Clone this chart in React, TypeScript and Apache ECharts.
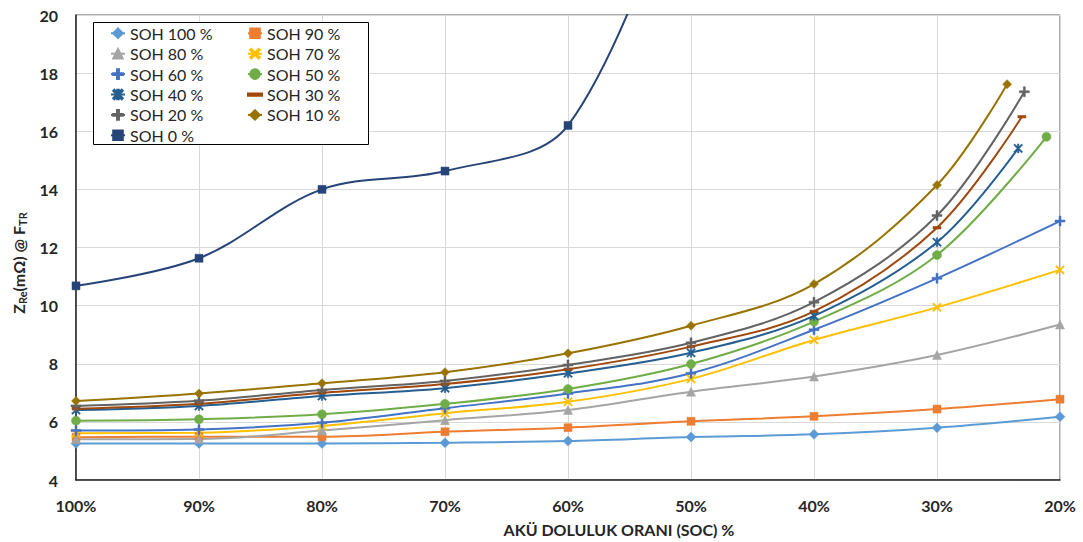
import React, { useEffect, useRef } from "react";
import * as echarts from "echarts";

// SOC (%) positions of the measured points
const SOC = [100, 90, 80, 70, 60, 50, 40, 30, 20];
const SOC_50 = [100, 90, 80, 70, 60, 50, 40, 30, 21.1];
const SOC_40 = [100, 90, 80, 70, 60, 50, 40, 30, 23.4];
const SOC_30 = [100, 90, 80, 70, 60, 50, 40, 30, 23.1];
const SOC_20 = [100, 90, 80, 70, 60, 50, 40, 30, 22.9];
const SOC_10 = [100, 90, 80, 70, 60, 50, 40, 30, 24.3];
const SOC_0 = [100, 90, 80, 70, 60, 50];

// Z_Re (mΩ) values
const soh100 = [5.26, 5.26, 5.26, 5.28, 5.34, 5.48, 5.57, 5.8, 6.18];
const soh90 = [5.47, 5.49, 5.49, 5.66, 5.8, 6.02, 6.19, 6.44, 6.78];
const soh80 = [5.4, 5.41, 5.7, 6.06, 6.41, 7.04, 7.56, 8.3, 9.35];
const soh70 = [5.61, 5.63, 5.86, 6.3, 6.69, 7.48, 8.82, 9.94, 11.23];
const soh60 = [5.7, 5.74, 5.97, 6.47, 6.98, 7.67, 9.17, 10.94, 12.91];
const soh50 = [6.04, 6.09, 6.26, 6.62, 7.13, 7.99, 9.45, 11.74, 15.81];
const soh40 = [6.41, 6.55, 6.89, 7.16, 7.67, 8.38, 9.65, 12.18, 15.41];
const soh30 = [6.45, 6.62, 7.0, 7.3, 7.81, 8.59, 9.8, 12.68, 16.5];
const soh20 = [6.55, 6.73, 7.1, 7.41, 7.96, 8.72, 10.12, 13.1, 17.36];
const soh10 = [6.72, 6.98, 7.33, 7.71, 8.36, 9.31, 10.74, 14.15, 17.62];
const soh0 = [10.68, 11.63, 14.0, 14.63, 16.2, 26];

const seriesNames = [
  "SOH 100 %", "SOH 90 %", "SOH 80 %", "SOH 70 %", "SOH 60 %", "SOH 50 %",
  "SOH 40 %", "SOH 30 %", "SOH 20 %", "SOH 10 %", "SOH 0 %",
];
const legendLeftCol = ["SOH 100 %", "SOH 80 %", "SOH 60 %", "SOH 40 %", "SOH 20 %", "SOH 0 %"];
const legendRightCol = ["SOH 90 %", "SOH 70 %", "SOH 50 %", "SOH 30 %", "SOH 10 %"];

const yTicks = { min: 4, max: 20, interval: 2 };
const xTicks = { min: 20, max: 100, interval: 10 };

const PLUS = "path://M4,0h2v4h4v2h-4v4h-2v-4h-4v-2h4z";
const XMARK_D = "M0,1.2L1.2,0L5,3.8L8.8,0L10,1.2L6.2,5L10,8.8L8.8,10L5,6.2L1.2,10L0,8.8L3.8,5Z";
const XMARK = "path://" + XMARK_D;
const STAR = "path://" + XMARK_D + " M4.2,0h1.6v10h-1.6z";
const DASH_ICON = "path://M0,0 M14,12 M0,5h14v2.2h-14z";

const FONT = "Lato, 'Open Sans', sans-serif";
const TEXT = "#262626";

function zip(xs: number[], ys: number[]) {
  return ys.map((y, i) => [xs[i], y]);
}

const seriesDefs: { name: string; xs: number[]; ys: number[]; color: string; symbol: string; size: number | number[] }[] = [
  { name: seriesNames[0], xs: SOC, ys: soh100, color: "#5B9BD5", symbol: "diamond", size: 10 },
  { name: seriesNames[1], xs: SOC, ys: soh90, color: "#ED7D31", symbol: "rect", size: 8 },
  { name: seriesNames[2], xs: SOC, ys: soh80, color: "#A5A5A5", symbol: "triangle", size: 9 },
  { name: seriesNames[3], xs: SOC, ys: soh70, color: "#FFC000", symbol: XMARK, size: 9 },
  { name: seriesNames[4], xs: SOC, ys: soh60, color: "#4472C4", symbol: PLUS, size: 10 },
  { name: seriesNames[5], xs: SOC_50, ys: soh50, color: "#70AD47", symbol: "circle", size: 9 },
  { name: seriesNames[6], xs: SOC_40, ys: soh40, color: "#255E91", symbol: STAR, size: 9 },
  { name: seriesNames[7], xs: SOC_30, ys: soh30, color: "#9E480E", symbol: "rect", size: [8, 2.5] },
  { name: seriesNames[8], xs: SOC_20, ys: soh20, color: "#636363", symbol: PLUS, size: 10 },
  { name: seriesNames[9], xs: SOC_10, ys: soh10, color: "#997300", symbol: "diamond", size: 9 },
  { name: seriesNames[10], xs: SOC_0, ys: soh0, color: "#264478", symbol: "rect", size: 8 },
];

export default function App() {
  const ref = useRef<HTMLDivElement>(null);
  useEffect(() => {
    if (!ref.current) return;
    const chart = echarts.init(ref.current, undefined, { renderer: "svg" });
    const legendCommon = {
      orient: "vertical" as const,
      top: 25.3,
      itemWidth: 14,
      itemHeight: 12,
      itemGap: 4.4,
      padding: 0,
      textStyle: { fontFamily: FONT, fontSize: 16, color: TEXT },
      z: 5,
    };
    chart.setOption({
      animation: false,
      backgroundColor: "#ffffff",
      grid: {
        left: 76, right: 23, top: 15, bottom: 62,
        show: true, borderColor: "#595959", borderWidth: 1,
      },
      legend: [
        { ...legendCommon, left: 110, data: legendLeftCol },
        {
          ...legendCommon, left: 247,
          data: legendRightCol.map((n) => (n === "SOH 30 %" ? { name: n, icon: DASH_ICON } : n)),
        },
      ],
      graphic: [
        {
          type: "rect", z: 3,
          shape: { x: 93.5, y: 22.5, width: 275, height: 122 },
          style: { fill: "#ffffff", stroke: "#000000", lineWidth: 1 },
        },
        {
          type: "text", x: 619, y: 529,
          style: {
            text: "AKÜ DOLULUK ORANI (SOC) %", fontFamily: FONT, fontSize: 16,
            fontWeight: "bold", fill: TEXT, align: "center", verticalAlign: "middle",
          },
        },
        {
          type: "text", x: 18, y: 263, rotation: Math.PI / 2,
          style: {
            text: "{a|Z}{s|Re}{a|(mΩ) @ F}{s|TR}",
            align: "center", verticalAlign: "middle",
            rich: {
              a: { fontFamily: FONT, fontSize: 16, fontWeight: "bold", fill: TEXT, lineHeight: 20, verticalAlign: "middle" },
              s: { fontFamily: FONT, fontSize: 11, fontWeight: "bold", fill: TEXT, lineHeight: 11, verticalAlign: "bottom" },
            },
          },
        },
      ],
      xAxis: {
        type: "value", inverse: true,
        min: xTicks.min, max: xTicks.max, interval: xTicks.interval,
        axisLine: { show: true, lineStyle: { color: TEXT, width: 1.5 } },
        axisTick: { show: false },
        axisLabel: {
          formatter: "{value}%", margin: 17, fontFamily: FONT, fontSize: 16,
          fontWeight: "bold", color: TEXT,
        },
        splitLine: { show: true, lineStyle: { color: "#d9d9d9", width: 1 } },
      },
      yAxis: {
        type: "value",
        min: yTicks.min, max: yTicks.max, interval: yTicks.interval,
        axisLine: { show: true, lineStyle: { color: TEXT, width: 1.5 } },
        axisTick: { show: false },
        axisLabel: { margin: 18, fontFamily: FONT, fontSize: 16, fontWeight: "bold", color: TEXT },
        splitLine: { show: true, lineStyle: { color: "#d9d9d9", width: 1 } },
      },
      series: seriesDefs.map((s) => ({
        name: s.name,
        type: "line",
        data: zip(s.xs, s.ys),
        smooth: 0.35,
        clip: true,
        symbol: s.symbol,
        symbolSize: s.size,
        symbolKeepAspect: false,
        showSymbol: true,
        itemStyle: { color: s.color, borderColor: s.color, borderWidth: 0.5 },
        lineStyle: { color: s.color, width: 2 },
        emphasis: { disabled: true },
        z: 2,
      })),
    });
    return () => chart.dispose();
  }, []);
  return <div ref={ref} style={{ width: 1083, height: 542, position: "absolute", left: 0, top: 0 }} />;
}
